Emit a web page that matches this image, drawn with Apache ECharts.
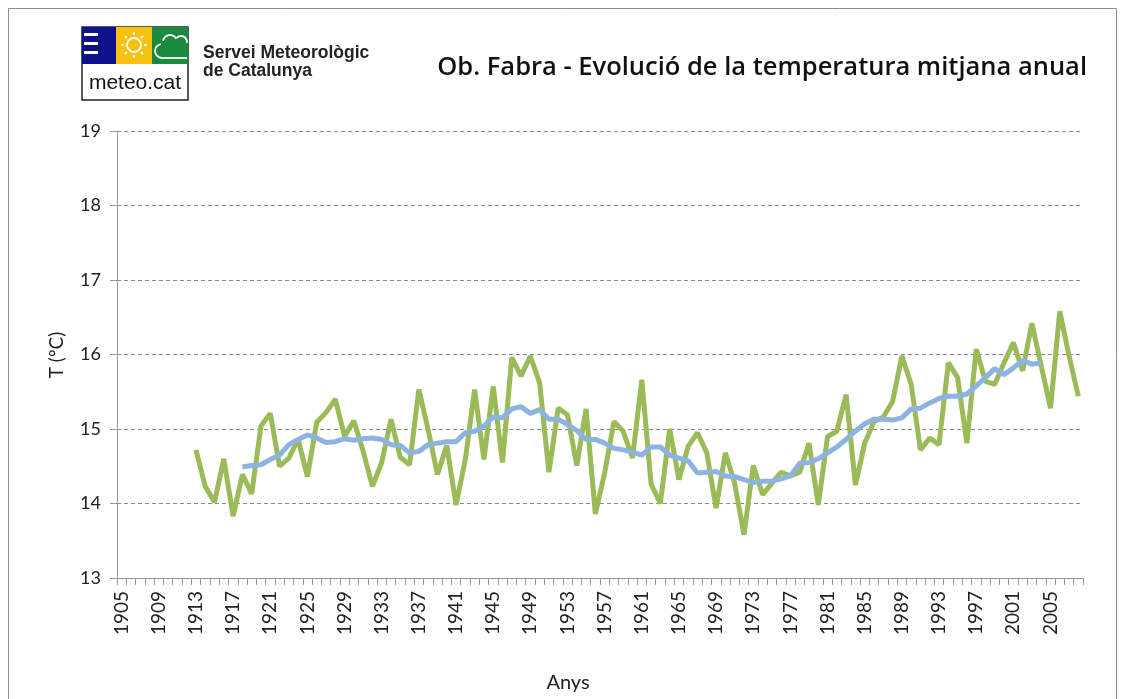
<!DOCTYPE html>
<html>
<head>
<meta charset="utf-8">
<script src="https://cdn.jsdelivr.net/npm/echarts@6/dist/echarts.min.js"></script>
<style>
html,body{margin:0;padding:0;background:#fff;}
#chart{width:1125px;height:699px;}
</style>
</head>
<body>
<div id="chart"></div>
<script>
// Categories: years 1905..2008
const firstYear = 1905;
const lastYear = 2008;
const years = [];
for (let y = firstYear; y <= lastYear; y++) years.push(String(y));

// Annual mean temperature (ºC), 1913..2008
const tempStartYear = 1913;
const tempValues = [
  14.72, 14.23, 14.02, 14.60, 13.83, 14.39, 14.13, 15.04, 15.21, 14.50,
  14.61, 14.86, 14.36, 15.09, 15.22, 15.40, 14.90, 15.11, 14.70, 14.23,
  14.55, 15.13, 14.62, 14.52, 15.53, 14.99, 14.39, 14.78, 13.98, 14.59,
  15.53, 14.59, 15.57, 14.55, 15.96, 15.71, 15.98, 15.62, 14.42, 15.28,
  15.19, 14.51, 15.27, 13.86, 14.41, 15.10, 14.97, 14.61, 15.66, 14.26,
  14.00, 15.00, 14.32, 14.77, 14.95, 14.68, 13.94, 14.68, 14.27, 13.58,
  14.51, 14.12, 14.27, 14.42, 14.37, 14.42, 14.81, 13.98, 14.90, 14.97,
  15.46, 14.25, 14.81, 15.10, 15.16, 15.37, 15.98, 15.60, 14.72, 14.88,
  14.79, 15.89, 15.69, 14.81, 16.07, 15.64, 15.60, 15.89, 16.16, 15.78,
  16.42, 15.85, 15.28, 16.58, 15.98, 15.44
];

// Moving average (ºC), 1918..2004
const avgStartYear = 1918;
const avgValues = [
  14.49, 14.51, 14.52, 14.59, 14.65, 14.79, 14.86, 14.92, 14.88, 14.82,
  14.83, 14.87, 14.85, 14.87, 14.88, 14.86, 14.79, 14.78, 14.68, 14.70,
  14.79, 14.81, 14.83, 14.83, 14.95, 14.97, 15.04, 15.16, 15.15, 15.27,
  15.30, 15.21, 15.26, 15.13, 15.13, 15.06, 14.98, 14.86, 14.86, 14.81,
  14.74, 14.72, 14.69, 14.65, 14.76, 14.76, 14.65, 14.61, 14.57, 14.41,
  14.42, 14.43, 14.37, 14.36, 14.32, 14.28, 14.30, 14.30, 14.33, 14.37,
  14.54, 14.55, 14.60, 14.68, 14.76, 14.86, 14.97, 15.07, 15.13, 15.13,
  15.12, 15.15, 15.27, 15.28, 15.35, 15.41, 15.44, 15.44, 15.47, 15.58,
  15.69, 15.81, 15.73, 15.82, 15.92, 15.87, 15.89
];

const yMin = 13, yMax = 19, yStep = 1;

function pad(startYear, values) {
  const out = years.map(() => null);
  values.forEach((v, i) => {
    const idx = startYear - firstYear + i;
    if (idx >= 0 && idx < out.length) out[idx] = v;
  });
  return out;
}

const chart = echarts.init(document.getElementById('chart'), null, {renderer: 'canvas'});
const font = 'Lato, "Open Sans", sans-serif';
const arial = '"Liberation Sans", Arial, sans-serif';
const W = '#fff';
function ray(x1, y1, x2, y2) {
  return {type: 'line', shape: {x1: x1, y1: y1, x2: x2, y2: y2}, style: {stroke: W, lineWidth: 1.8}};
}
function arc(cx, cy, r, a0, a1) {
  return {type: 'arc', shape: {cx: cx, cy: cy, r: r, startAngle: a0 * Math.PI, endAngle: a1 * Math.PI, clockwise: true}, style: {stroke: W, lineWidth: 1.8, fill: 'none'}};
}

const option = {
  animation: false,
  backgroundColor: '#fff',
  grid: {left: 117, right: 42, top: 131, bottom: 121, containLabel: false},
  xAxis: {
    type: 'category',
    data: years,
    boundaryGap: true,
    axisLine: {show: true, lineStyle: {color: '#999', width: 1}},
    axisTick: {show: true, interval: 0, length: 7, lineStyle: {color: '#999'}},
    axisLabel: {interval: 3, rotate: 90, fontSize: 19, color: '#222', margin: 13, fontFamily: font},
    splitLine: {show: false}
  },
  yAxis: {
    type: 'value',
    min: yMin, max: yMax, interval: yStep,
    axisLine: {show: true, lineStyle: {color: '#999', width: 1}},
    axisTick: {show: true, length: 7, lineStyle: {color: '#999'}},
    axisLabel: {fontSize: 18, color: '#222', margin: 16, fontFamily: font},
    splitLine: {show: true, lineStyle: {color: '#8a8a8a', type: [4, 3], width: 1}}
  },
  series: [
    {
      name: 'Temperatura mitjana anual',
      type: 'line',
      data: pad(tempStartYear, tempValues),
      showSymbol: false,
      connectNulls: false,
      lineStyle: {color: '#9bbb59', width: 5},
      itemStyle: {color: '#9bbb59'},
      z: 2
    },
    {
      name: 'Mitjana mòbil',
      type: 'line',
      data: pad(avgStartYear, avgValues),
      showSymbol: false,
      lineStyle: {color: '#8db3e2', width: 5},
      itemStyle: {color: '#8db3e2'},
      z: 3
    }
  ],
  graphic: [
    {type: 'rect', shape: {x: 8.5, y: 8.5, width: 1108, height: 700}, style: {fill: 'none', stroke: '#8c8c8c', lineWidth: 1}, silent: true},
    {type: 'rect', shape: {x: 82, y: 27, width: 106, height: 73}, style: {fill: '#fff', stroke: '#222', lineWidth: 1.5}},
    {type: 'rect', shape: {x: 82, y: 27, width: 34, height: 37}, style: {fill: '#0d128c'}},
    {type: 'rect', shape: {x: 84, y: 33, width: 14, height: 3}, style: {fill: W}},
    {type: 'rect', shape: {x: 84, y: 42, width: 14, height: 3}, style: {fill: W}},
    {type: 'rect', shape: {x: 84, y: 51, width: 14, height: 3}, style: {fill: W}},
    {type: 'rect', shape: {x: 116, y: 27, width: 36, height: 37}, style: {fill: '#f6c20f'}},
    {type: 'circle', shape: {cx: 134, cy: 45, r: 7}, style: {fill: 'none', stroke: W, lineWidth: 1.8}},
    ray(134, 32, 134, 35), ray(134, 55, 134, 58), ray(121, 45, 124, 45), ray(144, 45, 147, 45),
    ray(125, 36, 127, 38), ray(141, 52, 143, 54), ray(143, 36, 141, 38), ray(127, 52, 125, 54),
    {type: 'rect', shape: {x: 152, y: 27, width: 36, height: 37}, style: {fill: '#1a8a3e'}},
    arc(162, 51, 7, 0.5, 1.45),
    arc(170, 42, 7, 1.05, 1.85),
    arc(181, 42, 6, 1.25, 2.05),
    {type: 'line', shape: {x1: 162, y1: 58, x2: 187, y2: 58}, style: {stroke: W, lineWidth: 1.8}},
    {type: 'text', style: {text: 'meteo.cat', x: 135, y: 83, fontSize: 21, fontFamily: arial, fill: '#111', textAlign: 'center', textVerticalAlign: 'middle'}},
    {type: 'text', style: {text: 'Servei Meteorològic', x: 203, y: 53, fontSize: 17.5, fontWeight: 'bold', fontFamily: arial, fill: '#222', textAlign: 'left', textVerticalAlign: 'middle'}},
    {type: 'text', style: {text: 'de Catalunya', x: 203, y: 71, fontSize: 17.5, fontWeight: 'bold', fontFamily: arial, fill: '#222', textAlign: 'left', textVerticalAlign: 'middle'}},
    {type: 'text', style: {text: 'Ob. Fabra - Evolució de la temperatura mitjana anual', x: 1087, y: 68, fontSize: 25.5, fontWeight: 600, fontFamily: '"Open Sans", Lato, sans-serif', fill: '#111', textAlign: 'right', textVerticalAlign: 'middle'}},
    {type: 'text', rotation: Math.PI / 2, x: 57, y: 355, style: {text: 'T (ºC)', x: 0, y: 0, fontSize: 19, fontFamily: font, fill: '#222', textAlign: 'center', textVerticalAlign: 'middle'}},
    {type: 'text', style: {text: 'Anys', x: 568, y: 683, fontSize: 20, fontFamily: font, fill: '#222', textAlign: 'center', textVerticalAlign: 'middle'}}
  ]
};
chart.setOption(option);
</script>
</body>
</html>
